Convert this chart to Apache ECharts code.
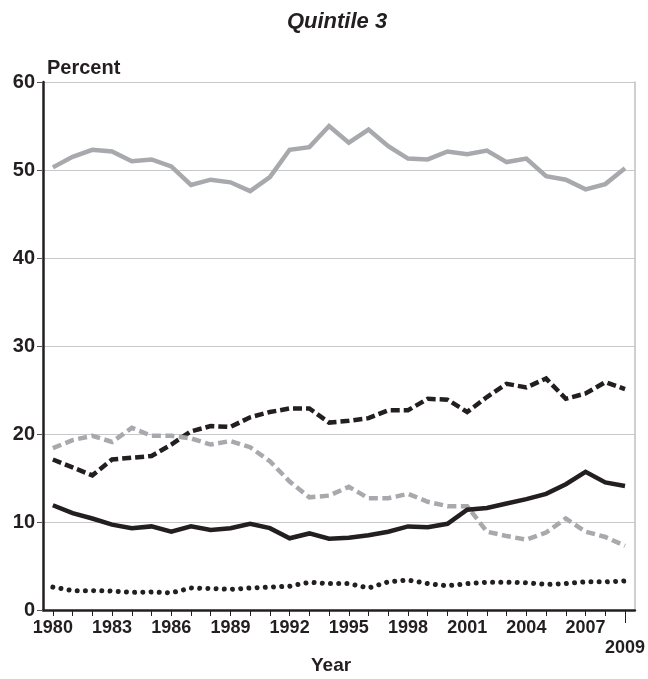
<!DOCTYPE html>
<html>
<head>
<meta charset="utf-8">
<script src="https://cdn.jsdelivr.net/npm/echarts@6/dist/echarts.min.js"></script>
<style>
html,body{margin:0;padding:0;background:#fff;}
#chart{width:648px;height:679px;}
</style>
</head>
<body>
<div id="chart"></div>
<script>
const years = ['1980','1981','1982','1983','1984','1985','1986','1987','1988','1989','1990','1991','1992','1993','1994','1995','1996','1997','1998','1999','2000','2001','2002','2003','2004','2005','2006','2007','2008','2009'];
const yTicks = [0,10,20,30,40,50,60];
const graySolid = [50.3,51.5,52.3,52.1,51.0,51.2,50.4,48.3,48.9,48.6,47.6,49.2,52.3,52.6,55.0,53.1,54.6,52.7,51.3,51.2,52.1,51.8,52.2,50.9,51.3,49.3,48.9,47.8,48.4,50.2];
const blackDashed = [17.1,16.2,15.3,17.1,17.3,17.5,18.8,20.3,20.9,20.8,21.9,22.5,22.9,22.9,21.3,21.5,21.8,22.7,22.7,24.0,23.9,22.5,24.2,25.7,25.3,26.3,24.0,24.6,25.9,25.1];
const grayDashed = [18.4,19.3,19.8,19.1,20.7,19.8,19.8,19.5,18.8,19.2,18.5,16.9,14.6,12.8,13.0,14.0,12.7,12.7,13.2,12.3,11.8,11.8,8.9,8.4,8.0,8.8,10.4,8.9,8.3,7.3];
const blackSolid = [11.9,11.0,10.4,9.7,9.3,9.5,8.9,9.5,9.1,9.3,9.8,9.3,8.15,8.7,8.1,8.2,8.5,8.9,9.5,9.4,9.8,11.4,11.6,12.1,12.6,13.2,14.3,15.7,14.5,14.1];
const dotted = [2.6,2.2,2.2,2.15,2.0,2.05,1.95,2.5,2.45,2.35,2.5,2.6,2.7,3.15,3.0,3.0,2.5,3.2,3.4,3.0,2.75,3.0,3.15,3.15,3.1,2.9,3.0,3.2,3.2,3.3];

const GRAY = '#a7a9ac';
const BLACK = '#231f20';
const FONT = "'Liberation Sans',Arial,sans-serif";

const chart = echarts.init(document.getElementById('chart'));
function line(name, data, color, type, z) {
  const isDot = Array.isArray(type) && type[0] < 1;
  return {
    name: name, type: 'line', data: data, symbol: 'none', z: z,
    lineStyle: {color: color, width: isDot ? 5 : 4.5, type: type, cap: isDot ? 'round' : 'butt', join: 'miter'},
    animation: false
  };
}
chart.setOption({
  animation: false,
  title: {
    text: 'Quintile 3', left: 332, top: 6, textAlign: 'center',
    textStyle: {fontFamily: FONT, fontSize: 22, fontWeight: 'bold', fontStyle: 'italic', color: BLACK}
  },
  graphic: [
    {type: 'text', left: 47, top: 58, style: {text: 'Percent', fontFamily: FONT, fontSize: 20, fontWeight: 'bold', fill: BLACK}},
    {type: 'text', left: 311, top: 656, style: {text: 'Year', fontFamily: FONT, fontSize: 19, fontWeight: 'bold', fill: BLACK}}
  ],
  grid: {left: 43, right: 11, top: 82, bottom: 69, containLabel: false},
  xAxis: [{
    type: 'category', data: years, boundaryGap: true,
    axisLine: {lineStyle: {color: BLACK, width: 2.5}},
    axisTick: {show: true, alignWithLabel: true, interval: 0, length: 6, lineStyle: {color: BLACK, width: 1}},
    axisLabel: {
      interval: function (i) { return (i % 3 === 0 && i < 28) || i === 29; },
      fontFamily: FONT, fontSize: 18, fontWeight: 'bold', color: BLACK, margin: 9,
      formatter: function (v) { return v === '2009' ? '{low|' + v + '}' : v; },
      rich: {low: {fontFamily: FONT, fontSize: 18, fontWeight: 'bold', color: BLACK, padding: [20, 0, 0, 0]}}
    },
    splitLine: {show: false}
  }, {
    type: 'category', data: years, boundaryGap: true, position: 'bottom',
    axisLine: {show: false},
    axisTick: {show: true, alignWithLabel: true, interval: function (i) { return i === 29; }, length: 13, lineStyle: {color: BLACK, width: 1}},
    axisLabel: {show: false}, splitLine: {show: false}
  }],
  yAxis: [{
    type: 'value', min: 0, max: 60, interval: 10,
    axisLine: {show: true, lineStyle: {color: BLACK, width: 2.5}},
    axisTick: {show: true, length: 6, lineStyle: {color: '#555', width: 1}},
    axisLabel: {fontFamily: FONT, fontSize: 20, fontWeight: 'bold', color: BLACK, margin: 8,
      formatter: function (v) { return yTicks.indexOf(v) >= 0 ? String(v) : ''; }},
    splitLine: {show: true, lineStyle: {color: '#c8c8c8', width: 1.2}}
  }, {
    type: 'value', min: 0, max: 60, interval: 10, position: 'right',
    axisLine: {show: true, lineStyle: {color: '#c0c0c0', width: 1.5}},
    axisTick: {show: false}, axisLabel: {show: false}, splitLine: {show: false}
  }],
  series: [
    line('Gray solid', graySolid, GRAY, 'solid', 2),
    line('Black dashed', blackDashed, BLACK, [9, 4], 3),
    line('Gray dashed', grayDashed, GRAY, [9, 4.5], 3),
    line('Black solid', blackSolid, BLACK, 'solid', 4),
    line('Dotted', dotted, BLACK, [0.01, 8.2], 4)
  ]
});
</script>
</body>
</html>
